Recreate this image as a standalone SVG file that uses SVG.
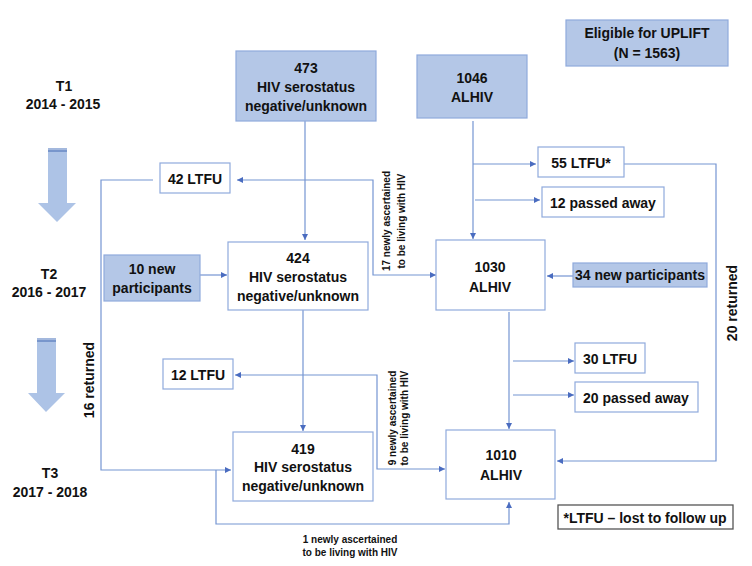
<svg xmlns="http://www.w3.org/2000/svg" width="752" height="566" viewBox="0 0 752 566">
<style>
text{font-family:"Liberation Sans",Arial,sans-serif;font-weight:bold;fill:#111;text-anchor:middle;dominant-baseline:central}
.t{font-size:14px}
.s{font-size:10px}
.blue{fill:#b4c7e7;stroke:#8faadc;stroke-width:1.2}
.white{fill:#fff;stroke:#8faadc;stroke-width:1.2}
.c{fill:none;stroke:#7595d2;stroke-width:1.2}
.a{marker-end:url(#ah)}
</style>
<defs>
<marker id="ah" markerUnits="userSpaceOnUse" markerWidth="8" markerHeight="8" refX="6" refY="3" orient="auto">
<path d="M0,0 L6,3 L0,6 z" fill="#4a6cc0"/>
</marker>
</defs>
<rect width="752" height="566" fill="#fff"/>

<g id="timeline">
<text class="t" x="64" y="86">T1</text>
<text class="t" x="63" y="104">2014 - 2015</text>
<text class="t" x="49" y="274">T2</text>
<text class="t" x="49" y="292">2016 - 2017</text>
<text class="t" x="50" y="473">T3</text>
<text class="t" x="50" y="492">2017 - 2018</text>
<g id="bigarrow1">
<polygon points="48,148 67,148 67,203 76,203 57,222 38,203 48,203" fill="#adc3e6"/>
<rect x="48" y="148" width="19" height="2" fill="#a3b8dd"/>
<rect x="48" y="150" width="19" height="2" fill="#7896cc"/>
</g>
<g id="bigarrow2">
<polygon points="37,338 56,338 56,393 65,393 46,412 28,393 37,393" fill="#adc3e6"/>
<rect x="37" y="338" width="19" height="2" fill="#a3b8dd"/>
<rect x="37" y="340" width="19" height="2" fill="#7896cc"/>
</g>
</g>

<g id="connectors">
<path class="c a" d="M305 121 V240"/>
<path class="c a" d="M305 180 H237"/>
<path class="c a" d="M305 180 H373 V275 H436"/>
<path class="c a" d="M153 180 H101 V470 H231"/>
<path class="c a" d="M200 275 H227"/>
<path class="c a" d="M303 310 V431"/>
<path class="c a" d="M303 375 H235"/>
<path class="c a" d="M303 375 H377 V469 H445"/>
<path class="c a" d="M216 470 V524 H509 V502"/>
<path class="c a" d="M473 121 V239"/>
<path class="c a" d="M473 164 H536"/>
<path class="c a" d="M475 200 H540"/>
<path class="c a" d="M624 164 H716 V461 H557"/>
<path class="c a" d="M573 276 H547"/>
<path class="c a" d="M509 312 V429"/>
<path class="c a" d="M513 361 H574"/>
<path class="c a" d="M513 395 H574"/>
</g>

<g id="eligible">
<rect class="blue" x="566" y="20" width="162" height="46"/>
<text class="t" x="647" y="33">Eligible for UPLIFT</text>
<text class="t" x="647" y="53">(N = 1563)</text>
</g>
<g id="n473">
<rect class="blue" x="236" y="51" width="140" height="70"/>
<text class="t" x="306" y="68">473</text>
<text class="t" x="306" y="87">HIV serostatus</text>
<text class="t" x="306" y="106">negative/unknown</text>
</g>
<g id="n1046">
<rect class="blue" x="417" y="55" width="110" height="63"/>
<text class="t" x="472" y="78">1046</text>
<text class="t" x="472" y="97">ALHIV</text>
</g>
<g id="ltfu42">
<rect class="white" x="160" y="163" width="70" height="30"/>
<text class="t" x="195" y="179">42 LTFU</text>
</g>
<g id="ltfu55">
<rect class="white" x="538" y="147" width="86" height="30"/>
<text class="t" x="581" y="163">55 LTFU*</text>
</g>
<g id="passed12">
<rect class="white" x="542" y="187" width="122" height="30"/>
<text class="t" x="603" y="203">12 passed away</text>
</g>
<g id="new10">
<rect class="blue" x="104" y="255" width="96" height="46"/>
<text class="t" x="152" y="269">10 new</text>
<text class="t" x="152" y="288">participants</text>
</g>
<g id="n424">
<rect class="white" x="228" y="242" width="140" height="68"/>
<text class="t" x="298" y="258">424</text>
<text class="t" x="298" y="277">HIV serostatus</text>
<text class="t" x="298" y="296">negative/unknown</text>
</g>
<g id="n1030">
<rect class="white" x="436" y="240" width="109" height="70"/>
<text class="t" x="490" y="267">1030</text>
<text class="t" x="490" y="287">ALHIV</text>
</g>
<g id="new34">
<rect class="blue" x="573" y="263" width="134" height="24"/>
<text class="t" x="640" y="275">34 new participants</text>
</g>
<g id="ltfu30">
<rect class="white" x="575" y="343" width="70" height="30"/>
<text class="t" x="610" y="359">30 LTFU</text>
</g>
<g id="passed20">
<rect class="white" x="575" y="382" width="123" height="30"/>
<text class="t" x="636" y="398">20 passed away</text>
</g>
<g id="ltfu12">
<rect class="white" x="163" y="359" width="70" height="30"/>
<text class="t" x="198" y="375">12 LTFU</text>
</g>
<g id="n419">
<rect class="white" x="233" y="432" width="140" height="69"/>
<text class="t" x="303" y="449">419</text>
<text class="t" x="303" y="467">HIV serostatus</text>
<text class="t" x="303" y="486">negative/unknown</text>
</g>
<g id="n1010">
<rect class="white" x="446" y="430" width="109" height="69"/>
<text class="t" x="501" y="455">1010</text>
<text class="t" x="501" y="475">ALHIV</text>
</g>
<g id="legend">
<rect x="558" y="505" width="175" height="24" fill="#fff" stroke="#555" stroke-width="1.3"/>
<text class="t" x="645" y="518">*LTFU – lost to follow up</text>
</g>

<g id="labels">
<text class="t" transform="translate(89,380) rotate(-90)">16 returned</text>
<text class="t" transform="translate(732,303) rotate(-90)">20 returned</text>
<text class="s" transform="translate(386,221) rotate(-90)">17 newly ascertained</text>
<text class="s" transform="translate(401,221) rotate(-90)">to be living with HIV</text>
<text class="s" transform="translate(392,418) rotate(-90)">9 newly ascertained</text>
<text class="s" transform="translate(404,418) rotate(-90)">to be living with HIV</text>
<text class="s" x="350" y="539">1 newly ascertained</text>
<text class="s" x="350" y="552">to be living with HIV</text>
</g>
</svg>
